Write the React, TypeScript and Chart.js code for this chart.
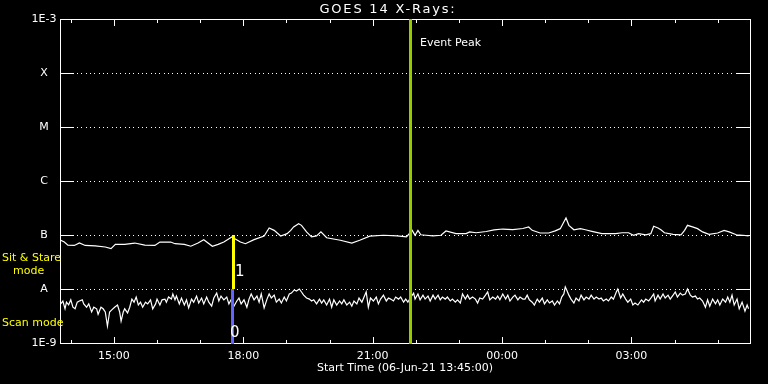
import React, { useEffect, useRef } from 'react';
import { Chart, registerables } from 'chart.js';

Chart.register(...registerables);

// ---------- text / axis definitions ----------
const START_CLOCK = '13:45';
const END_CLOCK = '05:45';
const CHART_TITLE = 'GOES 14 X-Rays:';
const X_AXIS_TITLE = 'Start Time (06-Jun-21 13:45:00)';
const HOUR_TICKS = ['14:00', '15:00', '16:00', '17:00', '18:00', '19:00', '20:00', '21:00', '22:00', '23:00', '00:00', '01:00', '02:00', '03:00', '04:00', '05:00'];
const LABELED_TICKS = ['15:00', '18:00', '21:00', '00:00', '03:00'];
const LEVEL_VALUES = [1e-9, 1e-8, 1e-7, 1e-6, 1e-5, 1e-4, 1e-3];
const LEVEL_LABELS = ['1E-9', 'A', 'B', 'C', 'M', 'X', '1E-3'];
const EVENT_PEAK_CLOCK = '21:52';
const EVENT_PEAK_LABEL = 'Event Peak';
const MODE_SWITCH_CLOCK = '17:45';
const SIT_STARE_LINES = ['Sit & Stare', 'mode'];
const SCAN_LABEL = 'Scan mode';
const MODE_1_LABEL = '1';
const MODE_0_LABEL = '0';

// ---------- long channel (1-8 A), minutes after start, W/m^2 ----------
const longTimeMin = [1, 6, 11, 20, 27, 35, 49, 63, 71, 77, 90, 104, 118, 132, 139, 154, 160, 173, 182, 192, 200, 212, 220, 228, 239, 251, 258, 270, 284, 291, 298, 307, 316, 321, 325, 332, 336, 343, 350, 357, 363, 371, 390, 406, 417, 431, 450, 469, 482, 490, 494, 498, 502, 509, 519, 530, 537, 551, 565, 570, 579, 593, 604, 616, 630, 644, 652, 657, 668, 680, 689, 696, 701, 704, 708, 715, 724, 731, 740, 754, 773, 782, 791, 798, 805, 815, 822, 826, 832, 836, 841, 853, 864, 869, 873, 880, 887, 894, 903, 915, 924, 931, 941, 950, 958];
const longFlux = [8.0e-8, 7.4e-8, 6.5e-8, 6.4e-8, 7.1e-8, 6.4e-8, 6.3e-8, 6.0e-8, 5.6e-8, 6.7e-8, 6.7e-8, 7.1e-8, 6.5e-8, 6.4e-8, 7.4e-8, 7.4e-8, 6.9e-8, 6.7e-8, 6.2e-8, 7.1e-8, 8.2e-8, 6.2e-8, 6.7e-8, 7.4e-8, 9.2e-8, 7.4e-8, 6.9e-8, 8.2e-8, 9.6e-8, 1.35e-7, 1.22e-7, 9.6e-8, 1.06e-7, 1.22e-7, 1.41e-7, 1.62e-7, 1.51e-7, 1.14e-7, 9.2e-8, 9.6e-8, 1.14e-7, 8.9e-8, 8.0e-8, 7.1e-8, 8.0e-8, 9.5e-8, 9.9e-8, 9.6e-8, 9.2e-8, 1.22e-7, 9.9e-8, 1.22e-7, 1.01e-7, 9.9e-8, 9.6e-8, 9.9e-8, 1.19e-7, 1.06e-7, 1.06e-7, 1.14e-7, 1.10e-7, 1.16e-7, 1.24e-7, 1.29e-7, 1.26e-7, 1.32e-7, 1.41e-7, 1.22e-7, 1.09e-7, 1.09e-7, 1.19e-7, 1.31e-7, 1.74e-7, 2.07e-7, 1.51e-7, 1.25e-7, 1.31e-7, 1.25e-7, 1.17e-7, 1.06e-7, 1.06e-7, 1.10e-7, 1.10e-7, 9.9e-8, 1.06e-7, 1.01e-7, 1.06e-7, 1.45e-7, 1.35e-7, 1.25e-7, 1.10e-7, 1.03e-7, 1.01e-7, 1.22e-7, 1.51e-7, 1.41e-7, 1.31e-7, 1.14e-7, 1.03e-7, 1.09e-7, 1.22e-7, 1.14e-7, 1.01e-7, 9.9e-8, 9.6e-8];

// ---------- short channel (0.5-4 A), minutes after start, W/m^2 ----------
const shortTimeMin = [
  1, 4, 7, 9, 12, 15, 18, 21, 24, 27, 31, 33, 37, 40, 44, 47, 51, 53, 57, 60, 63, 66, 69, 72, 76, 80, 83, 85, 88, 90, 94, 97, 100, 103, 106, 109, 112, 115, 119, 122, 126, 129, 133, 135, 139, 142, 146, 148, 151, 155, 157, 160,
  162, 166, 169, 173, 176, 179, 183, 186, 190, 193, 197, 200, 204, 207, 211, 214, 218, 221, 224, 228, 232, 235, 238, 242, 246, 249, 252, 256, 260, 263, 266, 270, 274, 277, 280, 284, 288, 291, 294, 298, 301, 305, 308, 312, 315, 319,
  322, 326, 329, 333, 336, 339, 343, 347, 350, 353, 357, 361, 364, 367, 371, 375, 378, 381, 385, 389, 392, 395, 399, 403, 406, 409, 413, 416, 420, 423, 426, 429, 432, 436, 440, 443, 446, 450, 454, 457, 460, 464, 467, 471, 474, 478, 481,
  484, 488, 492, 494, 498, 501, 505, 508, 512, 515, 519, 522, 526, 529, 532, 536, 539, 543, 546, 550, 553, 557, 560, 564, 567, 570, 574, 578, 581, 584, 588, 592, 595, 598, 602, 606, 609, 612, 616, 620, 623, 626, 630, 633, 637, 640, 644,
  647, 650, 653, 657, 660, 664, 667, 671, 674, 678, 681, 685, 688, 692, 695, 698, 701, 703, 705, 708, 711, 715, 718, 722, 725, 729, 732, 736, 739, 743, 746, 750, 753, 756, 760, 763, 767, 770, 774, 776, 780, 783, 787, 790, 794, 797, 800, 804,
  809, 812, 815, 819, 822, 826, 828, 832, 835, 839, 842, 846, 849, 853, 856, 859, 863, 866, 870, 873, 877, 880, 884, 887, 890, 894, 898, 901, 904, 908, 912, 915, 918, 922, 926, 929, 932, 935, 938, 942, 945, 949, 953, 956, 958,
];
const shortFlux = [
  5.3e-9, 6.0e-9, 4.3e-9, 5.7e-9, 5.1e-9, 6.3e-9, 4.6e-9, 4.3e-9, 5.7e-9, 6.0e-9, 6.3e-9, 5.3e-9, 4.6e-9, 5.3e-9, 3.75e-9, 4.6e-9, 4.3e-9, 3.4e-9, 4.6e-9, 4.3e-9, 3.75e-9, 2.06e-9, 3.75e-9, 4.1e-9, 4.6e-9, 5.05e-9, 3.75e-9, 2.55e-9, 3.75e-9, 4.3e-9, 3.6e-9, 4.6e-9, 6.5e-9, 5.7e-9, 7.1e-9, 5.05e-9, 5.7e-9, 4.6e-9, 5.7e-9, 5.3e-9, 6.3e-9, 4.3e-9, 5.3e-9, 6.5e-9, 5.05e-9, 6.3e-9, 6.5e-9, 5.7e-9, 7.1e-9, 6.5e-9, 8.1e-9, 6.3e-9,
  7.4e-9, 5.3e-9, 6.8e-9, 5.05e-9, 6.3e-9, 4.45e-9, 6.5e-9, 5.7e-9, 7.4e-9, 5.5e-9, 6.8e-9, 5.3e-9, 7.1e-9, 5.7e-9, 4.8e-9, 6.8e-9, 8.4e-9, 6.0e-9, 7.4e-9, 6.3e-9, 7.1e-9, 5.3e-9, 6.3e-9, 4.8e-9, 6.0e-9, 6.8e-9, 5.3e-9, 6.3e-9, 4.6e-9, 6.5e-9, 8.1e-9, 6.3e-9, 7.4e-9, 5.7e-9, 8.1e-9, 4.45e-9, 6.5e-9, 8.1e-9, 6.8e-9, 7.7e-9, 5.7e-9, 6.5e-9, 5.5e-9, 7.1e-9, 6.0e-9, 8.1e-9,
  8.4e-9, 9.6e-9, 9.2e-9, 1.0e-8, 8.8e-9, 7.7e-9, 6.8e-9, 6.5e-9, 6.0e-9, 6.3e-9, 5.3e-9, 6.5e-9, 5.5e-9, 6.3e-9, 5.05e-9, 6.5e-9, 4.6e-9, 6.3e-9, 5.05e-9, 6.0e-9, 5.3e-9, 6.3e-9, 5.05e-9, 5.7e-9, 4.8e-9, 6.0e-9, 5.3e-9, 6.8e-9, 5.7e-9, 7.1e-9, 8.8e-9, 4.6e-9, 6.8e-9, 6.0e-9, 7.1e-9, 5.3e-9, 6.5e-9, 7.7e-9, 6.0e-9, 6.8e-9, 6.5e-9, 6.0e-9, 7.1e-9, 6.5e-9, 7.1e-9, 5.7e-9, 6.5e-9,
  5.7e-9, 7.1e-9, 8.4e-9, 6.5e-9, 8.1e-9, 6.3e-9, 7.7e-9, 6.5e-9, 7.4e-9, 6.0e-9, 7.7e-9, 6.5e-9, 7.7e-9, 6.3e-9, 7.1e-9, 6.5e-9, 7.1e-9, 6.0e-9, 6.5e-9, 5.7e-9, 6.3e-9, 5.5e-9, 8.1e-9, 6.5e-9, 7.7e-9, 6.5e-9, 7.1e-9, 6.5e-9, 5.5e-9, 6.8e-9, 6.5e-9, 7.7e-9, 8.8e-9, 6.3e-9, 7.1e-9, 6.5e-9, 7.4e-9, 6.3e-9, 8.1e-9, 6.5e-9, 7.7e-9, 6.0e-9, 7.1e-9, 7.7e-9, 6.3e-9, 7.1e-9, 6.5e-9,
  6.5e-9, 7.7e-9, 6.3e-9, 5.7e-9, 5.05e-9, 6.5e-9, 5.7e-9, 6.8e-9, 5.3e-9, 6.3e-9, 5.5e-9, 6.0e-9, 5.05e-9, 6.0e-9, 5.3e-9, 7.1e-9, 8.1e-9, 1.09e-8, 9.6e-9, 7.7e-9, 6.5e-9, 5.5e-9, 6.8e-9, 6.0e-9, 7.7e-9, 6.3e-9, 7.1e-9, 6.5e-9, 7.7e-9, 6.5e-9, 7.1e-9, 6.5e-9, 6.8e-9, 6.0e-9, 6.5e-9, 6.0e-9, 7.1e-9, 6.5e-9, 8.8e-9, 1.0e-8, 6.8e-9, 8.1e-9, 6.5e-9, 5.7e-9, 6.5e-9, 5.05e-9, 5.5e-9, 5.05e-9,
  6.3e-9, 5.7e-9, 6.5e-9, 6.0e-9, 6.8e-9, 8.1e-9, 6.0e-9, 7.7e-9, 6.5e-9, 8.1e-9, 6.8e-9, 7.7e-9, 6.5e-9, 7.7e-9, 8.8e-9, 7.1e-9, 8.4e-9, 7.7e-9, 8.1e-9, 1.0e-8, 7.7e-9, 7.1e-9, 7.4e-9, 6.5e-9, 6.8e-9, 6.0e-9, 4.6e-9, 6.3e-9, 4.8e-9, 6.5e-9, 5.3e-9, 6.3e-9, 5.05e-9, 6.5e-9, 5.7e-9, 7.1e-9, 5.7e-9, 7.7e-9, 5.05e-9, 6.5e-9, 4.3e-9, 5.7e-9, 3.9e-9, 5.05e-9, 4.3e-9,
];

// ---------- helpers ----------
const clockToMin = (c: string): number => {
  const [h, m] = c.split(':').map(Number);
  const [sh, sm] = START_CLOCK.split(':').map(Number);
  let d = h * 60 + m - (sh * 60 + sm);
  if (d < 0) d += 1440;
  return d;
};

const FONT = '"DejaVu Sans", "Liberation Sans", sans-serif';
const WHITE = '#ffffff';
const YELLOW = '#ffff00';
const GREEN = '#99cc00';
const BLUE = '#6464ff';

const goesPlugin = {
  id: 'goesDecor',
  beforeDraw(chart: any) {
    const { ctx, width, height } = chart;
    ctx.save();
    ctx.fillStyle = '#000000';
    ctx.fillRect(0, 0, width, height);
    ctx.restore();
  },
  beforeDatasetsDraw(chart: any) {
    const { ctx, chartArea: a, scales } = chart;
    const y = scales.y;
    ctx.save();
    ctx.strokeStyle = WHITE;
    ctx.fillStyle = WHITE;
    ctx.lineWidth = 1;
    LEVEL_VALUES.forEach((v) => {
      const py = Math.round(y.getPixelForValue(v));
      ctx.beginPath();
      ctx.moveTo(a.left, py + 0.5);
      ctx.lineTo(a.left + 14, py + 0.5);
      ctx.moveTo(a.right - 14, py + 0.5);
      ctx.lineTo(a.right, py + 0.5);
      ctx.stroke();
      if (py > a.top + 1 && py < a.bottom - 1) {
        for (let px = a.left + 17; px < a.right - 15; px += 4.33) {
          ctx.fillRect(Math.round(px), py, 1, 1);
        }
      }
    });
    ctx.restore();
  },
  afterDatasetsDraw(chart: any) {
    const { ctx, chartArea: a, scales } = chart;
    const x = scales.x;
    const y = scales.y;
    ctx.save();
    ctx.strokeStyle = WHITE;
    ctx.lineWidth = 1;

    // frame
    ctx.strokeRect(a.left + 0.5, a.top + 0.5, a.right - a.left, a.bottom - a.top);

    // hourly ticks, pointing inward at top and bottom
    HOUR_TICKS.forEach((c) => {
      const px = Math.round(x.getPixelForValue(clockToMin(c))) + 0.5;
      const len = LABELED_TICKS.includes(c) ? 7 : 4;
      ctx.beginPath();
      ctx.moveTo(px, a.top);
      ctx.lineTo(px, a.top + len);
      ctx.moveTo(px, a.bottom + 1);
      ctx.lineTo(px, a.bottom + 1 - len);
      ctx.stroke();
    });

    // markers: event peak (green), mode switch (yellow over blue)
    const gx = Math.round(x.getPixelForValue(clockToMin(EVENT_PEAK_CLOCK)));
    ctx.fillStyle = GREEN;
    ctx.fillRect(gx - 1, a.top, 3, a.bottom - a.top + 1);

    const mx = Math.round(x.getPixelForValue(clockToMin(MODE_SWITCH_CLOCK)));
    const yB = Math.round(y.getPixelForValue(1e-7));
    const yA = Math.round(y.getPixelForValue(1e-8));
    ctx.fillStyle = YELLOW;
    ctx.fillRect(mx - 1, yB, 3, yA - yB);
    ctx.fillStyle = BLUE;
    ctx.fillRect(mx - 2, yA, 3, a.bottom - yA + 1);

    ctx.textBaseline = 'middle';

    // marker numbers
    ctx.fillStyle = WHITE;
    ctx.textAlign = 'left';
    ctx.font = `15px ${FONT}`;
    ctx.fillText(MODE_1_LABEL, mx + 2, yA - 17);
    ctx.fillText(MODE_0_LABEL, mx - 3, a.bottom - 10);

    // event peak label
    ctx.font = `11px ${FONT}`;
    ctx.fillText(EVENT_PEAK_LABEL, gx + 10, a.top + 24);

    // axis labels
    ctx.textAlign = 'center';
    LABELED_TICKS.forEach((c) => {
      ctx.fillText(c, x.getPixelForValue(clockToMin(c)), a.bottom + 13);
    });
    ctx.fillText(X_AXIS_TITLE, (a.left + a.right) / 2, a.bottom + 25.5);
    LEVEL_VALUES.forEach((v, i) => {
      ctx.fillText(LEVEL_LABELS[i], a.left - 16, y.getPixelForValue(v) + 0.5);
    });

    // title
    ctx.font = `13px ${FONT}`;
    (ctx as any).letterSpacing = '1.8px';
    ctx.fillText(CHART_TITLE, chart.width / 2 + 4, a.top - 9);
    (ctx as any).letterSpacing = '0px';

    // mode labels
    ctx.fillStyle = YELLOW;
    ctx.font = `11px ${FONT}`;
    ctx.textAlign = 'left';
    ctx.fillText(SIT_STARE_LINES[0], 2, yB + 23.5);
    ctx.fillText(SIT_STARE_LINES[1], 13, yB + 36);
    ctx.fillText(SCAN_LABEL, 2, yA + 34.5);

    ctx.restore();
  },
};

export default function App() {
  const canvasRef = useRef<HTMLCanvasElement>(null);

  useEffect(() => {
    const canvas = canvasRef.current;
    if (!canvas) return;
    const chart = new Chart(canvas, {
      type: 'line',
      data: {
        datasets: [
          {
            label: 'GOES 14 1.0-8.0 A',
            data: longTimeMin.map((t, i) => ({ x: t, y: longFlux[i] })),
            borderColor: WHITE,
            borderWidth: 1.2,
            pointRadius: 0,
            tension: 0,
            fill: false,
          },
          {
            label: 'GOES 14 0.5-4.0 A',
            data: shortTimeMin.map((t, i) => ({ x: t, y: shortFlux[i] })),
            borderColor: WHITE,
            borderWidth: 1.2,
            pointRadius: 0,
            tension: 0,
            fill: false,
          },
        ],
      },
      options: {
        responsive: false,
        animation: false,
        devicePixelRatio: 1,
        layout: { padding: { top: 19, right: 18, left: 0, bottom: 0 } },
        plugins: {
          legend: { display: false },
          tooltip: { enabled: false },
          title: { display: false },
        },
        scales: {
          x: {
            type: 'linear',
            min: 0,
            max: clockToMin(END_CLOCK),
            grid: { display: false },
            border: { display: false },
            ticks: { display: false },
            afterFit: (s: any) => {
              s.height = 41;
            },
          },
          y: {
            type: 'logarithmic',
            min: LEVEL_VALUES[0],
            max: LEVEL_VALUES[LEVEL_VALUES.length - 1],
            grid: { display: false },
            border: { display: false },
            ticks: { display: false },
            afterFit: (s: any) => {
              s.width = 60;
            },
          },
        },
      } as any,
      plugins: [goesPlugin],
    });
    return () => chart.destroy();
  }, []);

  return (
    <div style={{ position: 'fixed', left: 0, top: 0, width: 768, height: 384, background: '#000', overflow: 'hidden' }}>
      <canvas ref={canvasRef} width={768} height={384} style={{ display: 'block', width: 768, height: 384 }} />
    </div>
  );
}
